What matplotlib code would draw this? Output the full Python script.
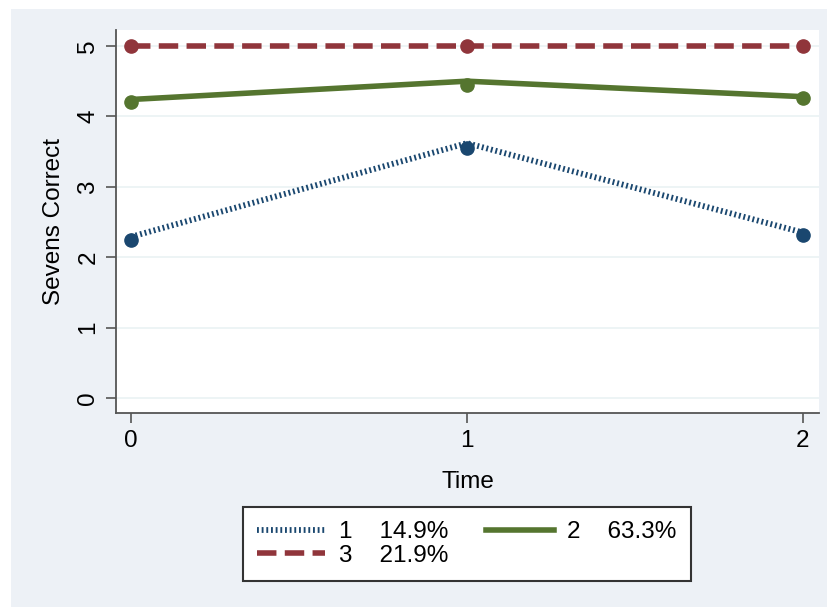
import matplotlib.pyplot as plt
from matplotlib.patches import Rectangle
from matplotlib.lines import Line2D

plt.rcParams['font.family'] = ['Liberation Sans', 'DejaVu Sans']

time = [0, 1, 2]
# fitted trajectories (lines) and observed means (markers) per class
fit_1 = [2.29, 3.62, 2.35]
obs_1 = [2.24, 3.55, 2.31]
fit_2 = [4.24, 4.50, 4.28]
obs_2 = [4.20, 4.44, 4.26]
fit_3 = [5.0, 5.0, 5.0]
obs_3 = [5.0, 5.0, 5.0]
labels = ['1    14.9%', '2    63.3%', '3    21.9%']
yticks = [0, 1, 2, 3, 4, 5]

c1 = '#1a476f'
c2 = '#55752f'
c3 = '#90353b'
bg = '#edf1f6'
dots = (0, (0.32, 0.48))
dashes = (0, (3.5, 1.5))
fs = 17.5

fig = plt.figure(figsize=(8.27, 6.07), dpi=100)
fig.patch.set_facecolor('white')
fig.patches.append(Rectangle((11/827, 0), 1, 1 - 9/607, transform=fig.transFigure,
                             facecolor=bg, edgecolor='none', zorder=-10))

ax = fig.add_axes([116/827, 1 - 413/607, (819-116)/827, (413-30)/607])
ax.set_facecolor('white')

ax.plot(time, fit_1, color=c1, lw=4.2, linestyle=dots, dash_capstyle='butt')
ax.plot(time, obs_1, 'o', color=c1, ms=9.5)
ax.plot(time, fit_2, color=c2, lw=4, solid_capstyle='butt')
ax.plot(time, obs_2, 'o', color=c2, ms=9.5)
ax.plot(time, fit_3, color=c3, lw=4, linestyle=dashes, dash_capstyle='butt')
ax.plot(time, obs_3, 'o', color=c3, ms=9.5)

ax.set_xlim(-0.045, 2.048)
ax.set_ylim(-0.213, 5.227)
ax.set_xticks(time)
ax.set_yticks(yticks)
ax.set_yticklabels([str(v) for v in yticks], rotation=90, va='center')
ax.yaxis.grid(True, color='#eaf2f3', lw=1.2)
ax.set_axisbelow(True)
ax.tick_params(axis='both', length=7, width=1.2, color='#555555', labelsize=fs, pad=5)
for s in ['top', 'right']:
    ax.spines[s].set_visible(False)
for s in ['left', 'bottom']:
    ax.spines[s].set_color('#555555')
    ax.spines[s].set_linewidth(1.3)

ax.set_xlabel('Time', fontsize=fs, labelpad=14)
ax.set_ylabel('Sevens Correct', fontsize=fs, labelpad=9)

h1 = Line2D([], [], color=c1, lw=4.2, linestyle=dots)
h2 = Line2D([], [], color=c2, lw=4)
h3 = Line2D([], [], color=c3, lw=4, linestyle=dashes)
# column-major fill: 1, 3 in first column, 2 in second
leg = fig.legend([h1, h3, h2], [labels[0], labels[2], labels[1]], ncol=2, loc='center',
                 bbox_to_anchor=(467/827, 1 - 544/607),
                 fontsize=fs, frameon=True, fancybox=False, framealpha=1,
                 handlelength=2.8, handletextpad=0.55,
                 columnspacing=1.55, labelspacing=0.08, borderpad=0.58)
leg.get_frame().set_edgecolor('#333333')
leg.get_frame().set_facecolor('white')
leg.get_frame().set_linewidth(1.5)

fig.savefig('out.png', dpi=100, facecolor=fig.get_facecolor())
